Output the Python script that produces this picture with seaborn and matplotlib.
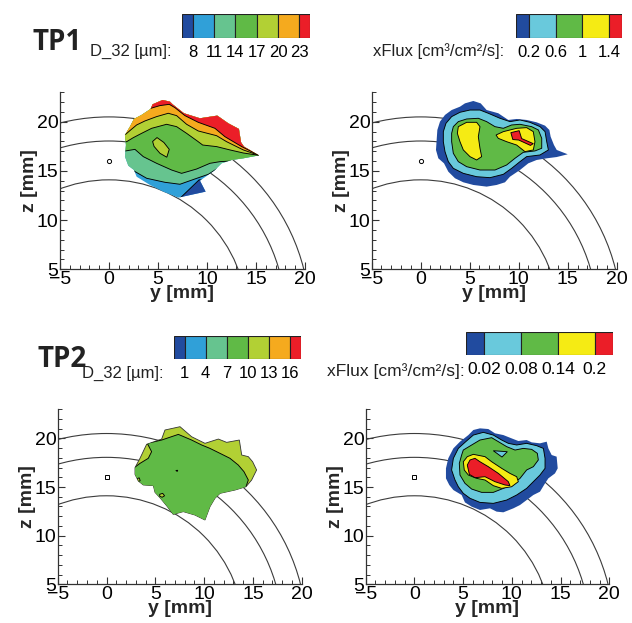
"""
Drop size (D_32) and volume flux maps for two test points (TP1, TP2).
Filled contour bands are stored as polygons in mm, read off the original figure.
"""
import numpy as np
import matplotlib
matplotlib.use("Agg")
import matplotlib.pyplot as plt
from matplotlib.patches import Polygon, Circle
from matplotlib.ticker import MultipleLocator
import seaborn as sns


# ── colours ─────────────────────────────────────────────────
DARK_BLUE = "#214b9f"
LIGHT_BLUE = "#30a0d8"
TEAL = "#66c48f"
GREEN = "#60ba46"
YELLOW_GREEN = "#b2d034"
ORANGE = "#f5aa1e"
RED = "#eb1e28"
SKY_BLUE = "#69c9dc"
YELLOW = "#f5eb14"

D32_COLORS = [DARK_BLUE, LIGHT_BLUE, TEAL, GREEN, YELLOW_GREEN, ORANGE, RED]
FLUX_COLORS = [DARK_BLUE, SKY_BLUE, GREEN, YELLOW, RED]

# ── legends ─────────────────────────────────────────────────
TP1_D32_LEVELS = [8, 11, 14, 17, 20, 23]
TP1_D32_LABELS = ["8", "11", "14", "17", "20", "23"]
TP1_FLUX_LEVELS = [0.2, 0.6, 1.0, 1.4]
TP1_FLUX_LABELS = ["0.2", "0.6", "1", "1.4"]
TP2_D32_LEVELS = [1, 4, 7, 10, 13, 16]
TP2_D32_LABELS = ["1", "4", "7", "10", "13", "16"]
TP2_FLUX_LEVELS = [0.02, 0.08, 0.14, 0.2]
TP2_FLUX_LABELS = ["0.02", "0.08", "0.14", "0.2"]

# ── geometry (mm) ───────────────────────────────────────────
ARC_RADII = [14.1, 18.05, 20.5]
NOZZLE_Y = 0.0
NOZZLE_Z = 16.0

# ── TP1, D_32 ───────────────────────────────────────────────
TP1_D32_OUTLINE = [
    (1.63, 16.46), (1.73, 17.64), (1.63, 18.66), (2.14, 19.51), (2.55, 20.29),
    (3.33, 20.70), (4.25, 21.31), (4.45, 21.78), (5.47, 22.22), (6.22, 22.05),
    (6.49, 21.78), (7.65, 20.87), (9.28, 20.36), (11.05, 20.63), (12.17, 19.85),
    (13.26, 19.27), (13.47, 17.92), (13.77, 17.48), (15.30, 16.59), (13.71, 16.29),
    (12.52, 16.12), (11.49, 15.78), (10.71, 15.00), (9.28, 14.02), (9.86, 12.90),
    (7.07, 12.29), (5.54, 12.90), (4.18, 13.58), (2.82, 14.42), (2.55, 15.10),
    (1.97, 15.54),
]
TP1_D32_DARK = [(9.2, 14.1), (11.0, 14.0), (11.0, 11.5), (6.9, 11.9)]
TP1_D32_TEAL = [
    (-2.0, 15.6), (2.55, 15.0), (3.84, 14.26), (5.71, 13.85), (7.24, 13.65),
    (8.77, 14.19), (10.13, 14.66), (10.98, 15.2), (16.0, 15.5), (16.0, 24.0),
    (-2.0, 24.0),
]
TP1_D32_GREEN = [
    (-2.0, 17.0), (1.46, 17.0), (2.65, 17.2), (3.50, 16.46), (4.86, 15.78),
    (6.39, 15.10), (7.41, 14.76), (8.94, 15.20), (10.30, 15.78), (11.32, 15.95),
    (16.0, 16.2), (16.0, 24.0), (-2.0, 24.0),
]
TP1_D32_YG = [
    (-2.0, 18.0), (1.80, 17.98), (2.48, 18.39), (3.33, 18.83), (4.35, 19.34),
    (5.88, 19.75), (6.90, 19.51), (7.92, 18.83), (9.01, 18.05), (9.56, 17.64),
    (10.98, 17.48), (12.35, 17.14), (13.71, 16.83), (15.30, 16.59), (18.0, 16.5),
    (18.0, 24.0), (-2.0, 24.0),
]
TP1_D32_ORANGE = [
    (-2.0, 18.8), (1.70, 18.73), (2.21, 19.17), (2.82, 19.68), (3.67, 20.09),
    (4.86, 20.53), (6.05, 20.87), (6.90, 20.63), (7.92, 19.75), (9.11, 19.07),
    (10.98, 18.59), (12.0, 17.98), (13.71, 17.14), (15.30, 16.59), (18.0, 16.6),
    (18.0, 24.0), (-2.0, 24.0),
]
TP1_D32_RED = [
    (2.5, 21.5), (4.25, 21.37), (5.2, 21.65), (6.15, 21.78), (6.73, 21.44),
    (7.75, 20.63), (9.11, 19.95), (10.81, 19.34), (11.83, 18.49), (13.54, 17.48),
    (15.30, 16.59), (18.0, 16.7), (18.0, 24.0), (2.5, 24.0),
]
TP1_D32_ISLAND = [
    (4.45, 18.0), (4.9, 18.4), (5.6, 17.9), (6.15, 17.2), (5.9, 16.4),
    (5.2, 16.8), (4.6, 17.5),
]

# ── TP1, xFlux ──────────────────────────────────────────────
TP1_FLUX_OUTLINE = [
    (1.70, 19.17), (1.97, 20.02), (2.48, 20.70), (3.16, 21.20), (4.01, 21.54),
    (4.52, 21.88), (5.37, 22.12), (6.12, 21.88), (6.73, 21.20), (7.92, 20.87),
    (8.94, 20.19), (9.79, 20.29), (10.81, 20.19), (11.83, 19.95), (12.69, 19.61),
    (13.13, 19.17), (13.26, 18.49), (13.60, 17.64), (13.88, 17.14), (15.0, 16.70),
    (13.88, 16.42), (12.86, 16.29), (11.83, 16.12), (10.98, 15.78), (10.13, 15.10),
    (9.11, 14.42), (8.60, 13.85), (7.75, 13.58), (6.73, 13.41), (5.37, 13.58),
    (4.35, 13.85), (3.50, 14.26), (2.82, 14.93), (2.38, 15.78), (1.80, 16.29),
    (1.56, 17.14), (1.63, 18.15),
]
TP1_FLUX_SKY = [
    (2.31, 19.0), (2.58, 19.85), (3.16, 20.53), (4.01, 20.97), (5.03, 21.20),
    (6.05, 21.20), (6.90, 20.87), (8.09, 20.36), (9.11, 20.02), (10.13, 20.19),
    (11.15, 19.95), (12.18, 19.51), (12.69, 19.0), (12.86, 17.98), (13.03, 17.14),
    (12.18, 16.63), (10.81, 16.46), (10.13, 15.95), (9.28, 15.27), (8.43, 14.66),
    (7.07, 14.32), (5.71, 14.42), (4.35, 14.76), (3.33, 15.27), (2.82, 15.95),
    (2.48, 16.97), (2.31, 17.98),
]
TP1_FLUX_GREEN = [
    (3.33, 19.51), (3.84, 20.02), (4.69, 20.29), (5.88, 20.36), (6.73, 20.02),
    (7.58, 19.51), (8.43, 19.34), (9.28, 19.68), (10.13, 19.75), (11.32, 19.51),
    (12.01, 19.17), (12.35, 18.32), (12.35, 17.31), (11.66, 17.04), (10.47, 16.90),
    (9.62, 16.29), (8.77, 15.61), (7.58, 15.10), (6.05, 15.10), (4.69, 15.44),
    (3.84, 15.95), (3.33, 16.80), (3.16, 17.98), (3.16, 18.83),
]
TP1_FLUX_YELLOW_A = [
    (3.84, 19.51), (4.69, 19.95), (5.71, 19.95), (6.05, 19.51), (5.88, 18.49),
    (6.05, 17.31), (6.22, 16.46), (5.71, 16.12), (5.03, 16.46), (4.35, 17.14),
    (4.01, 17.98), (3.74, 18.83),
]
TP1_FLUX_YELLOW_B = [
    (7.69, 18.66), (8.43, 19.0), (9.79, 19.34), (10.81, 19.41), (11.49, 19.0),
    (11.66, 17.98), (11.49, 17.14), (10.64, 16.97), (9.79, 17.64), (8.77, 17.98),
    (7.92, 18.32),
]
TP1_FLUX_RED = [
    (9.2, 18.9), (10.05, 19.1), (10.3, 18.3), (11.49, 17.78), (11.2, 17.6),
    (10.0, 18.15), (9.4, 18.2),
]

# ── TP2, D_32 ───────────────────────────────────────────────
TP2_D32_OUTLINE = [
    (2.92, 16.99), (3.43, 17.95), (4.11, 19.39), (5.65, 19.93), (5.99, 20.86),
    (7.53, 21.20), (8.72, 20.17), (10.09, 19.49), (11.46, 19.93), (12.31, 19.59),
    (13.61, 19.83), (13.85, 18.29), (14.53, 18.12), (14.97, 17.60), (15.38, 16.75),
    (14.87, 15.72), (14.29, 15.03), (13.16, 14.69), (11.63, 14.35), (11.11, 13.84),
    (10.60, 12.98), (10.09, 11.61), (9.06, 12.12), (7.87, 12.47), (6.84, 12.19),
    (6.16, 13.08), (5.48, 13.90), (4.97, 14.45), (4.80, 15.14), (3.77, 15.21),
    (3.26, 15.62), (2.92, 16.30),
]
TP2_D32_GREEN = [
    (2.75, 16.92), (3.43, 17.43), (4.28, 17.95), (4.62, 18.63), (4.18, 19.49),
    (5.65, 19.83), (7.36, 20.41), (8.72, 19.83), (9.75, 19.32), (10.60, 18.97),
    (11.63, 18.46), (12.65, 17.95), (13.50, 17.26), (14.08, 16.58), (14.53, 15.72),
    (14.29, 15.03), (16.0, 14.0), (12.0, 10.0), (4.0, 12.0), (1.5, 16.9),
]
TP2_D32_SPOT_A = [(3.15, 15.85), (3.35, 15.95), (3.45, 15.65), (3.25, 15.55)]
TP2_D32_SPOT_B = [(5.45, 14.25), (5.75, 14.35), (5.95, 14.1), (5.7, 13.95), (5.45, 14.05)]
TP2_D32_SPOT_C = [(7.1, 16.7), (7.3, 16.72), (7.25, 16.6)]

# ── TP2, xFlux ──────────────────────────────────────────────
TP2_FLUX_OUTLINE = [
    (3.48, 17.95), (4.0, 18.97), (4.68, 19.66), (5.54, 20.34), (6.05, 20.86),
    (6.73, 21.03), (7.59, 20.96), (8.27, 20.52), (9.13, 20.34), (9.98, 20.00),
    (10.67, 19.73), (11.52, 19.83), (12.04, 19.59), (12.89, 19.49), (13.58, 19.66),
    (13.75, 18.97), (14.09, 18.29), (14.60, 18.12), (14.71, 16.92), (14.43, 16.40),
    (13.75, 15.89), (13.41, 15.38), (12.89, 14.52), (12.21, 14.18), (11.52, 13.66),
    (10.84, 13.15), (10.16, 12.81), (9.13, 12.40), (8.44, 12.47), (7.76, 12.81),
    (6.73, 12.64), (5.88, 12.98), (5.19, 13.42), (4.85, 14.18), (4.0, 14.69),
    (3.58, 15.21), (3.24, 15.89), (3.24, 16.92),
]
TP2_FLUX_SKY = [
    (4.0, 17.95), (4.51, 18.97), (5.19, 19.59), (6.05, 20.34), (7.08, 20.62),
    (8.10, 20.34), (8.96, 19.83), (9.64, 19.49), (10.50, 19.32), (11.52, 19.49),
    (12.55, 19.25), (13.24, 18.97), (13.41, 17.95), (13.41, 16.92), (12.89, 16.23),
    (12.21, 15.55), (11.52, 14.86), (10.50, 14.18), (9.47, 13.66), (8.10, 13.32),
    (6.73, 13.42), (5.71, 13.84), (5.02, 14.35), (4.51, 15.03), (4.17, 15.72),
    (3.82, 16.75),
]
TP2_FLUX_GREEN = [
    (5.02, 18.80), (5.88, 19.32), (6.73, 19.83), (7.93, 20.07), (8.62, 19.66),
    (9.47, 19.15), (10.33, 18.80), (11.18, 18.97), (12.04, 18.87), (12.62, 18.46),
    (12.72, 17.78), (12.21, 17.09), (11.52, 16.75), (10.84, 15.89), (10.16, 15.38),
    (9.13, 14.86), (8.10, 14.45), (6.90, 14.45), (5.88, 14.79), (5.19, 15.38),
    (4.68, 16.23), (4.61, 17.43), (4.85, 18.29),
]
TP2_FLUX_HOLE = [(8.10, 18.73), (9.54, 18.63), (8.99, 18.08)]
TP2_FLUX_YELLOW = [
    (5.02, 17.60), (5.43, 18.12), (6.05, 18.36), (7.25, 18.12), (7.93, 17.60),
    (8.96, 16.92), (9.81, 16.40), (10.50, 16.06), (10.67, 15.55), (9.98, 15.03),
    (8.96, 14.86), (8.10, 15.14), (7.25, 15.72), (6.39, 15.89), (5.54, 16.23),
    (5.12, 16.75),
]
TP2_FLUX_RED = [
    (5.43, 17.26), (5.71, 17.78), (6.22, 17.95), (6.73, 17.60), (7.59, 17.09),
    (8.62, 16.40), (9.64, 15.55), (9.81, 15.14), (9.30, 15.21), (8.27, 15.55),
    (7.25, 16.06), (6.22, 15.96), (5.64, 16.30),
]

TEXT = "#222222"


def setup_style():
    sns.set_theme(style="white")
    plt.rcParams.update({
        "font.family": ["Liberation Sans", "DejaVu Sans"],
        "axes.linewidth": 0.9,
        "axes.edgecolor": "#333333",
        "text.color": TEXT,
        "xtick.color": "#333333",
        "ytick.color": "#333333",
        "xtick.labelcolor": "black",
        "ytick.labelcolor": "black",
    })


def draw_panel(fig, rect, outline, base_color, layers, marker, outline_edge=False):
    ax = fig.add_axes(rect)
    for r in ARC_RADII:
        ax.add_patch(Circle((0, 0), r, fill=False, ec="#3c3c3c", lw=0.8, zorder=1))
    ax.plot([NOZZLE_Y], [NOZZLE_Z], marker=marker, ms=3, mfc="white",
            mec="black", mew=0.7, ls="none", zorder=2)

    clip = Polygon(outline, closed=True, fc=base_color,
                   ec="#333333" if outline_edge else "none", lw=0.6, zorder=3)
    ax.add_patch(clip)
    for color, pts in layers:
        p = Polygon(pts, closed=True, fc=color, ec="black", lw=0.65, zorder=4)
        ax.add_patch(p)
        p.set_clip_path(clip)

    ax.set_xlim(-5, 20)
    ax.set_ylim(5, 23)
    ax.set_xticks([-5, 0, 5, 10, 15, 20])
    ax.set_yticks([5, 10, 15, 20])
    ax.xaxis.set_minor_locator(MultipleLocator(1))
    ax.yaxis.set_minor_locator(MultipleLocator(1))
    ax.tick_params(which="both", direction="in", top=False, right=False,
                   bottom=True, left=True, labelsize=14, pad=1)
    ax.tick_params(which="major", length=5, width=0.8)
    ax.tick_params(which="minor", length=3, width=0.7)
    for s in ["top", "right"]:
        ax.spines[s].set_visible(False)
    ax.set_xlabel("y [mm]", fontsize=14, fontweight="bold", labelpad=-2)
    ax.set_ylabel("z [mm]", fontsize=14, fontweight="bold", labelpad=-1)
    ax.set_facecolor("white")
    return ax


def draw_legend(fig, rect, levels, labels, colors, fontsize=12):
    cax = fig.add_axes(rect)
    step = levels[1] - levels[0]
    edges = [levels[0] - step / 2] + list(levels) + [levels[-1] + step / 2]
    cax.barh(0, np.diff(edges), left=edges[:-1], height=1, color=colors,
             edgecolor="#222222", linewidth=0.8)
    cax.set_xlim(edges[0], edges[-1])
    cax.set_ylim(-0.5, 0.5)
    cax.set_xticks(levels)
    cax.set_xticklabels(labels)
    cax.set_yticks([])
    for s in cax.spines.values():
        s.set_visible(False)
    cax.tick_params(axis="x", length=0, pad=5, labelsize=fontsize)
    return cax


def main():
    setup_style()
    fig = plt.figure(figsize=(6.32, 6.23), dpi=100)

    # TP1
    draw_panel(fig, [0.0949, 0.5677, 0.3877, 0.2841], TP1_D32_OUTLINE, LIGHT_BLUE, [
        (DARK_BLUE, TP1_D32_DARK),
        (TEAL, TP1_D32_TEAL),
        (GREEN, TP1_D32_GREEN),
        (YELLOW_GREEN, TP1_D32_YG),
        (ORANGE, TP1_D32_ORANGE),
        (RED, TP1_D32_RED),
        (YELLOW_GREEN, TP1_D32_ISLAND),
    ], marker="o")
    draw_panel(fig, [0.5881, 0.5677, 0.3877, 0.2841], TP1_FLUX_OUTLINE, DARK_BLUE, [
        (SKY_BLUE, TP1_FLUX_SKY),
        (GREEN, TP1_FLUX_GREEN),
        (YELLOW, TP1_FLUX_YELLOW_A),
        (YELLOW, TP1_FLUX_YELLOW_B),
        (RED, TP1_FLUX_RED),
    ], marker="o")

    # TP2
    draw_panel(fig, [0.0913, 0.0621, 0.3861, 0.2811], TP2_D32_OUTLINE, YELLOW_GREEN, [
        (GREEN, TP2_D32_GREEN),
        (YELLOW_GREEN, TP2_D32_SPOT_A),
        (YELLOW_GREEN, TP2_D32_SPOT_B),
        (YELLOW_GREEN, TP2_D32_SPOT_C),
    ], marker="s", outline_edge=True)
    draw_panel(fig, [0.5786, 0.0621, 0.3854, 0.2811], TP2_FLUX_OUTLINE, DARK_BLUE, [
        (SKY_BLUE, TP2_FLUX_SKY),
        (GREEN, TP2_FLUX_GREEN),
        (SKY_BLUE, TP2_FLUX_HOLE),
        (YELLOW, TP2_FLUX_YELLOW),
        (RED, TP2_FLUX_RED),
    ], marker="s")

    # legends
    draw_legend(fig, [0.288, 0.939, 0.2025, 0.0385], TP1_D32_LEVELS, TP1_D32_LABELS, D32_COLORS)
    draw_legend(fig, [0.8165, 0.939, 0.1677, 0.0385], TP1_FLUX_LEVELS, TP1_FLUX_LABELS, FLUX_COLORS)
    draw_legend(fig, [0.2753, 0.4238, 0.2009, 0.0369], TP2_D32_LEVELS, TP2_D32_LABELS, D32_COLORS)
    draw_legend(fig, [0.7373, 0.4302, 0.2326, 0.0369], TP2_FLUX_LEVELS, TP2_FLUX_LABELS,
                FLUX_COLORS, fontsize=12.5)

    tp_font = dict(fontsize=20, fontweight="bold", family=["Open Sans", "DejaVu Sans"])
    fig.text(0.052, 0.9197, "TP1", va="baseline", **tp_font)
    fig.text(0.0601, 0.4109, "TP2", va="baseline", **tp_font)
    fig.text(0.1424, 0.9101, "D_32 [µm]:", va="baseline", fontsize=12)
    fig.text(0.5902, 0.9101, "xFlux [cm³/cm²/s]:", va="baseline", fontsize=12)
    fig.text(0.1297, 0.3933, "D_32 [µm]:", va="baseline", fontsize=12)
    fig.text(0.5174, 0.3965, "xFlux [cm³/cm²/s]:", va="baseline", fontsize=12.5)

    fig.savefig("out.png", dpi=100, facecolor="white")
    plt.close(fig)


if __name__ == "__main__":
    main()
